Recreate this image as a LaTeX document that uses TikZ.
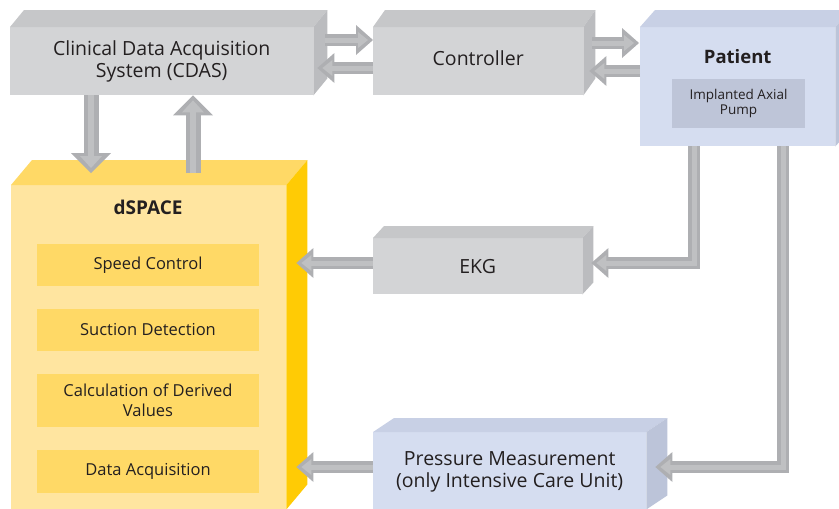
\documentclass[tikz,border=0pt]{standalone}
\usepackage{fontspec}
\setmainfont{Open Sans}
\usetikzlibrary{arrows.meta,calc}
\definecolor{grayfront}{HTML}{D3D4D6}
\definecolor{graytop}{HTML}{C6C7C9}
\definecolor{grayside}{HTML}{BBBCBF}
\definecolor{bluefront}{HTML}{D5DDF0}
\definecolor{bluetop}{HTML}{C8D0E5}
\definecolor{blueside}{HTML}{BCC4D9}
\definecolor{pumpc}{HTML}{BEC5D8}
\definecolor{yelfront}{HTML}{FFE5A0}
\definecolor{yeltop}{HTML}{FFD966}
\definecolor{yelside}{HTML}{FFCB05}
\definecolor{yelinner}{HTML}{FFD966}
\definecolor{arrdark}{HTML}{AEAFB2}
\definecolor{arrlight}{HTML}{BFC0C2}
\definecolor{txt}{HTML}{231F20}
\newcommand{\cuboid}[8]{%
  \node[face, fill=#8front, minimum width={#4-#2}, minimum height={#5-#3}] (#1) at (#2,#3) {};
  \fill[#8top] (#1.north west) -- ++(#6,-#7) -- ([shift={(#6,-#7)}]#1.north east) -- (#1.north east) -- cycle;
  \fill[#8side] (#1.north east) -- ++(#6,-#7) -- ([shift={(#6,-#7)}]#1.south east) -- (#1.south east) -- cycle;
}
\newcommand{\barr}[2][]{%
  \draw[barrow,#1] #2;
  \draw[barrowin,#1] #2;
}
\begin{document}
\begin{tikzpicture}[x=1pt,y=-1pt,
  face/.style={inner sep=0pt, anchor=north west, draw=none},
  lab/.style={text=txt, align=center, inner sep=0pt},
  big/.style={font=\fontsize{19.5}{22.5}\selectfont},
  inbox/.style={fill=yelinner, minimum width=222pt, inner sep=0pt, text=txt, align=center, font=\fontsize{16.5}{20}\selectfont},
  barrow/.style={draw=arrdark, line width=12pt, line join=miter,
    -{Triangle[length=17pt,width=30pt,line width=0pt]}},
  barrowin/.style={draw=arrlight, line width=5pt, line join=miter, shorten >=5pt,
    -{Triangle[length=10pt,width=16pt,line width=0pt]}},
  vert/.style={line width=15pt},
  vertarr/.style={-{Triangle[length=20pt,width=40pt,line width=0pt]}},
  vertin/.style={line width=6pt, -{Triangle[length=12pt,width=22pt,line width=0pt]}},
]
\useasboundingbox (0,0) rectangle (839,509);
\clip (0,0) rectangle (839,509);

% boxes
\cuboid{cdas}{10}{27}{313}{95}{14}{17}{gray}
\cuboid{ctrl}{373}{27}{583}{95}{12}{17}{gray}
\cuboid{patient}{640}{27}{835}{146}{15}{17}{blue}
\cuboid{dspace}{11}{185}{286}{509}{21}{25}{yel}
\cuboid{ekg}{373}{238}{582}{294}{11}{12}{gray}
\cuboid{press}{373}{432}{646}{509}{21}{14}{blue}

% labels
\node[lab, big] (cdastxt) at (cdas.center) {Clinical Data Acquisition\\System (CDAS)};
\node[lab, big] (ctrltxt) at ([shift={(0,-3)}]ctrl.center) {Controller};
\node[lab, font=\fontsize{18.5}{21}\selectfont\bfseries] (pattxt) at ([shift={(0,30)}]patient.north) {Patient};
\node[fill=pumpc, minimum width=133pt, minimum height=49pt, inner sep=0pt, text=txt, align=center,
  font=\fontsize{13.5}{14.5}\selectfont] (pump) at (738.5,103.5) {Implanted Axial\\Pump};
\node[lab, font=\fontsize{19}{22}\selectfont\bfseries] (dstxt) at (148,207) {dSPACE};
\node[inbox, minimum height=42pt] (speed) at (148,265) {Speed Control};
\node[inbox, minimum height=42pt] (suction) at (148,330) {Suction Detection};
\node[inbox, minimum height=53pt] (calc) at (148,400.5) {Calculation of Derived\\Values};
\node[inbox, minimum height=43pt] (daq) at (148,471.5) {Data Acquisition};
\node[lab, big] (ekgtxt) at (ekg.center) {EKG};
\node[lab, big] (presstxt) at ([shift={(0,1)}]press.center) {Pressure Measurement\\(only Intensive Care Unit)};

% arrows
\barr{($(cdas.east |- 0,40)+(12,0)$) -- (ctrl.west |- 0,40)}
\barr{(ctrl.west |- 0,68) -- ($(cdas.east |- 0,68)+(4,0)$)}
\barr{($(ctrl.east |- 0,43)+(9,0)$) -- ($(patient.west |- 0,43)+(-1,0)$)}
\barr{(patient.west |- 0,71) -- ($(ctrl.east |- 0,71)+(6,0)$)}
\draw[barrow, vert, vertarr] (cdas.south -| 91,0) -- ($(dspace.north -| 91,0)+(0,-12)$);
\draw[barrowin, vertin] (cdas.south -| 91,0) -- ($(dspace.north -| 91,0)+(0,-12)$);
\draw[barrow, vert, vertarr] ($(dspace.north -| 193,0)+(0,-12)$) -- (cdas.south -| 193,0);
\draw[barrowin, vertin] ($(dspace.north -| 193,0)+(0,-12)$) -- (cdas.south -| 193,0);
\barr{(patient.south -| 694,0) |- ($(ekg.east |- 0,263)+(9,0)$)}
\barr{(patient.south -| 783,0) |- ($(press.east |- 0,467)+(9,0)$)}
\barr{(ekg.west |- 0,263) -- ($(dspace.east |- 0,263)+(10,0)$)}
\barr{(press.west |- 0,467) -- ($(dspace.east |- 0,467)+(10,0)$)}
\end{tikzpicture}
\end{document}
